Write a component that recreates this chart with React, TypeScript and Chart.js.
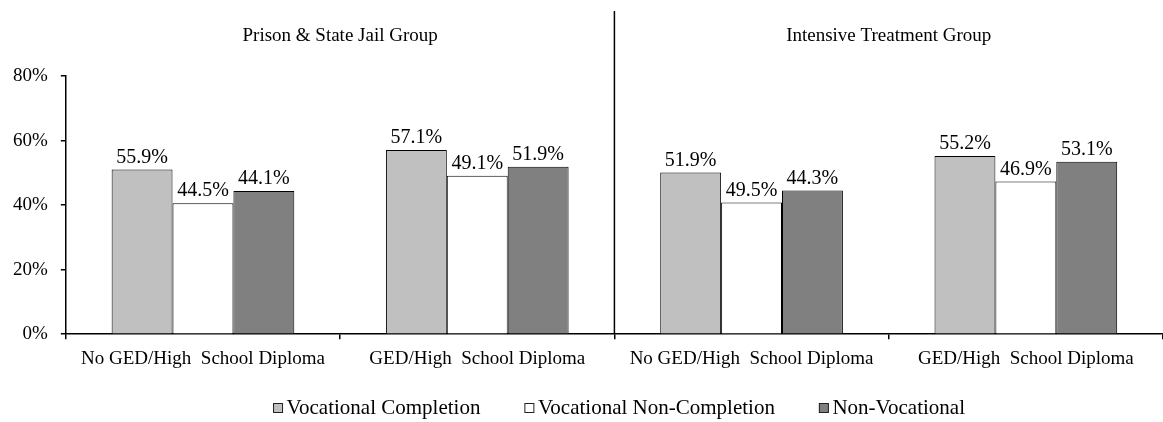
import React, { useEffect, useRef } from 'react';
import { Chart, registerables } from 'chart.js';

Chart.register(...registerables);

const FONT = "'Liberation Serif', 'Times New Roman', serif";

const categories = [
  'No GED/High  School Diploma',
  'GED/High  School Diploma',
  'No GED/High  School Diploma',
  'GED/High  School Diploma',
];
const groupTitles = ['Prison & State Jail Group', 'Intensive Treatment Group'];
const seriesNames = ['Vocational Completion', 'Vocational Non-Completion', 'Non-Vocational'];

// bar heights as drawn (percent)
const completionValues = [51.0, 57.1, 50.1, 55.2];
const nonCompletionValues = [40.6, 49.1, 40.8, 47.3];
const nonVocationalValues = [44.4, 51.9, 44.5, 53.4];

// printed value labels
const completionLabels = ['55.9%', '57.1%', '51.9%', '55.2%'];
const nonCompletionLabels = ['44.5%', '49.1%', '49.5%', '46.9%'];
const nonVocationalLabels = ['44.1%', '51.9%', '44.3%', '53.1%'];

const yMin = 0;
const yMax = 80;
const yStep = 20;

const seriesColors = ['#C0C0C0', '#FFFFFF', '#808080'];
const valueLabels = [completionLabels, nonCompletionLabels, nonVocationalLabels];

const overlayPlugin = {
  id: 'overlay',
  afterDatasetsDraw(chart: any) {
    const ctx = chart.ctx as CanvasRenderingContext2D;
    const xs = chart.scales.x;
    const area = chart.chartArea;
    ctx.save();
    // value labels
    ctx.font = `20px ${FONT}`;
    ctx.fillStyle = '#000';
    ctx.textAlign = 'center';
    ctx.textBaseline = 'alphabetic';
    chart.data.datasets.forEach((_ds: any, di: number) => {
      const meta = chart.getDatasetMeta(di);
      meta.data.forEach((bar: any, i: number) => {
        ctx.fillText(valueLabels[di][i], bar.x, bar.y - 7);
      });
    });
    // group titles
    ctx.font = `19px ${FONT}`;
    const b1 = (xs.getPixelForValue(0) + xs.getPixelForValue(1)) / 2;
    const b3 = (xs.getPixelForValue(2) + xs.getPixelForValue(3)) / 2;
    ctx.fillText(groupTitles[0], b1, 41);
    ctx.fillText(groupTitles[1], b3, 41);
    // divider
    const mid = (xs.getPixelForValue(1) + xs.getPixelForValue(2)) / 2;
    ctx.strokeStyle = '#000';
    ctx.lineWidth = 1.5;
    ctx.beginPath();
    ctx.moveTo(mid, 11);
    ctx.lineTo(mid, area.bottom);
    ctx.stroke();
    // legend
    ctx.font = `21px ${FONT}`;
    ctx.textAlign = 'left';
    ctx.textBaseline = 'middle';
    const box = 10;
    const textGap = 3.5;
    const itemGap = 44;
    const widths = seriesNames.map((n) => box + textGap + ctx.measureText(n).width);
    const total = widths.reduce((a, b) => a + b, 0) + itemGap * (widths.length - 1);
    let lx = 619 - total / 2;
    const ly = 408;
    seriesNames.forEach((name, i) => {
      ctx.fillStyle = seriesColors[i];
      ctx.fillRect(lx, ly - box / 2, box, box);
      ctx.strokeStyle = '#222';
      ctx.lineWidth = 1;
      ctx.strokeRect(lx + 0.5, ly - box / 2 + 0.5, box - 1, box - 1);
      ctx.fillStyle = '#000';
      ctx.fillText(name, lx + box + textGap, ly);
      lx += widths[i] + itemGap;
    });
    ctx.restore();
  },
};

export default function App() {
  const canvasRef = useRef<HTMLCanvasElement | null>(null);

  useEffect(() => {
    document.body.style.margin = '0';
    const canvas = canvasRef.current;
    if (!canvas) return;
    const chart = new Chart(canvas, {
      type: 'bar',
      data: {
        labels: categories,
        datasets: [
          { label: seriesNames[0], data: completionValues, backgroundColor: seriesColors[0] },
          { label: seriesNames[1], data: nonCompletionValues, backgroundColor: seriesColors[1] },
          { label: seriesNames[2], data: nonVocationalValues, backgroundColor: seriesColors[2] },
        ].map((d) => ({
          ...d,
          borderColor: '#000',
          borderWidth: 1,
          categoryPercentage: 0.666,
          barPercentage: 1.0,
        })),
      },
      plugins: [overlayPlugin],
      options: {
        responsive: false,
        animation: false,
        devicePixelRatio: 1,
        layout: { padding: { left: 0, right: -4, top: 76, bottom: 44 } },
        plugins: {
          legend: { display: false },
          tooltip: { enabled: false },
          title: { display: false },
        },
        scales: {
          x: {
            offset: true,
            grid: {
              display: true,
              offset: true,
              drawOnChartArea: false,
              drawTicks: true,
              tickLength: 5,
              color: '#000',
              lineWidth: 1.5,
            },
            border: { display: true, color: '#000', width: 1.5 },
            ticks: {
              font: { family: FONT, size: 19 },
              color: '#000',
              padding: 8,
              maxRotation: 0,
              autoSkip: false,
            },
          },
          y: {
            min: yMin,
            max: yMax,
            grid: {
              display: true,
              drawOnChartArea: false,
              drawTicks: true,
              tickLength: 5,
              color: '#000',
              lineWidth: 1.5,
            },
            border: { display: true, color: '#000', width: 1.5 },
            ticks: {
              stepSize: yStep,
              font: { family: FONT, size: 19 },
              color: '#000',
              padding: 13,
              callback: (v: any) => `${v}%`,
            },
          },
        },
      },
    });
    return () => chart.destroy();
  }, []);

  return (
    <div style={{ width: 1163, height: 422, overflow: 'hidden' }}>
      <canvas ref={canvasRef} width={1163} height={422} />
    </div>
  );
}
